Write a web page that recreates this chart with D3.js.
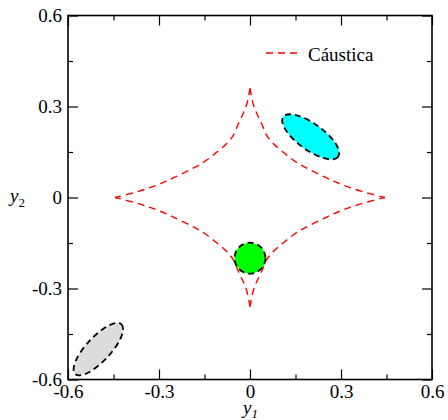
<!DOCTYPE html>
<html>
<head>
<meta charset="utf-8">
<script src="https://cdn.jsdelivr.net/npm/d3@7"></script>
<style>
  body { margin: 0; background: #fff; }
  svg { display: block; }
  text { font-family: "Liberation Serif", "Times New Roman", serif; fill: #000; }
</style>
</head>
<body>
<div id="chart"></div>
<script>
// axis ticks
var majorTicks = [-0.6, -0.3, 0, 0.3, 0.6];
var minorTicks = [-0.45, -0.15, 0.15, 0.45];

var causticNE = [[0,0.36],[0.01,0.31],[0.022,0.278],[0.04,0.24],[0.055,0.205],[0.08,0.175],[0.115,0.145],
  [0.155,0.115],[0.198,0.091],[0.25,0.066],[0.28,0.052],[0.32,0.036],[0.375,0.018],[0.445,0]];
var causticNW = [[0,0.36],[-0.01,0.31],[-0.022,0.278],[-0.04,0.24],[-0.055,0.205],[-0.08,0.175],[-0.115,0.145],
  [-0.155,0.115],[-0.198,0.091],[-0.25,0.066],[-0.28,0.052],[-0.32,0.036],[-0.375,0.018],[-0.445,0]];
var causticSW = [[0,-0.36],[-0.01,-0.31],[-0.022,-0.278],[-0.04,-0.24],[-0.055,-0.205],[-0.08,-0.175],[-0.115,-0.145],
  [-0.155,-0.115],[-0.198,-0.091],[-0.25,-0.066],[-0.28,-0.052],[-0.32,-0.036],[-0.375,-0.018],[-0.445,0]];
var causticSE = [[0,-0.36],[0.01,-0.31],[0.022,-0.278],[0.04,-0.24],[0.055,-0.205],[0.08,-0.175],[0.115,-0.145],
  [0.155,-0.115],[0.198,-0.091],[0.25,-0.066],[0.28,-0.052],[0.32,-0.036],[0.375,-0.018],[0.445,0]];

// sources: center x, center y, semi-axis a, semi-axis b, angle (deg), fill
var sourceNames = ["cyan", "green", "gray"];
var sourceCx = [0.2, 0, -0.5];
var sourceCy = [0.2, -0.2, -0.5];
var sourceA = [0.112, 0.051, 0.112];
var sourceB = [0.043, 0.051, 0.04];
var sourceAngle = [-36, 0, 47];
var sourceFill = ["#00ffff", "#00ff00", "#dcdcdc"];

var width = 448, height = 420;
var margin = {left: 68, top: 15.5, right: 16, bottom: 40.5};

var svg = d3.select("#chart").append("svg")
  .attr("width", width).attr("height", height);

var x = d3.scaleLinear().domain([-0.6, 0.6]).range([margin.left, width - margin.right]);
var y = d3.scaleLinear().domain([-0.6, 0.6]).range([height - margin.bottom, margin.top]);

var fmt = function(d) { return d === 0 ? "0" : (d < 0 ? "-" : "") + Math.abs(d).toFixed(1); };

// caustic
var line = d3.line().x(d => x(d[0])).y(d => y(d[1])).curve(d3.curveCatmullRom);
[causticNE, causticNW, causticSW, causticSE].forEach(function(arc) {
  svg.append("path")
    .attr("d", line(arc))
    .attr("fill", "none")
    .attr("stroke", "#ff0000")
    .attr("stroke-width", 1.4)
    .attr("stroke-dasharray", "7,5");
});

// sources
var sx = (x(1) - x(0)), sy = (y(0) - y(1));
sourceNames.forEach(function(n, i) {
  svg.append("ellipse")
    .attr("transform", `translate(${x(sourceCx[i])},${y(sourceCy[i])}) rotate(${-sourceAngle[i]})`)
    .attr("rx", sourceA[i] * sx)
    .attr("ry", sourceB[i] * sy)
    .attr("fill", sourceFill[i])
    .attr("stroke", "#000")
    .attr("stroke-width", 1.8)
    .attr("stroke-dasharray", "6,4");
});

// axes
var fontSize = 19;
function styleAxis(g) {
  g.attr("font-family", null).attr("font-size", null);
  g.select(".domain").remove();
  g.selectAll("line").attr("stroke", "#000").attr("stroke-width", 1.2);
  g.selectAll("text").attr("font-size", fontSize).attr("fill", "#000");
}
var axBottom = svg.append("g").attr("transform", `translate(0,${y(-0.6)})`)
  .call(d3.axisBottom(x).tickValues(majorTicks).tickSize(-10).tickPadding(5).tickFormat(fmt));
styleAxis(axBottom);
var axLeft = svg.append("g").attr("transform", `translate(${x(-0.6)},0)`)
  .call(d3.axisLeft(y).tickValues(majorTicks).tickSize(-10).tickPadding(6).tickFormat(fmt));
styleAxis(axLeft);
var axTop = svg.append("g").attr("transform", `translate(0,${y(0.6)})`)
  .call(d3.axisTop(x).tickValues(majorTicks).tickSize(-10).tickFormat(""));
styleAxis(axTop);
var axRight = svg.append("g").attr("transform", `translate(${x(0.6)},0)`)
  .call(d3.axisRight(y).tickValues(majorTicks).tickSize(-10).tickFormat(""));
styleAxis(axRight);
// minor ticks
styleAxis(svg.append("g").attr("transform", `translate(0,${y(-0.6)})`)
  .call(d3.axisBottom(x).tickValues(minorTicks).tickSize(-5).tickFormat("")));
styleAxis(svg.append("g").attr("transform", `translate(0,${y(0.6)})`)
  .call(d3.axisTop(x).tickValues(minorTicks).tickSize(-5).tickFormat("")));
styleAxis(svg.append("g").attr("transform", `translate(${x(-0.6)},0)`)
  .call(d3.axisLeft(y).tickValues(minorTicks).tickSize(-5).tickFormat("")));
styleAxis(svg.append("g").attr("transform", `translate(${x(0.6)},0)`)
  .call(d3.axisRight(y).tickValues(minorTicks).tickSize(-5).tickFormat("")));

// frame
svg.append("rect")
  .attr("x", x(-0.6)).attr("y", y(0.6))
  .attr("width", x(0.6) - x(-0.6)).attr("height", y(-0.6) - y(0.6))
  .attr("fill", "none").attr("stroke", "#000").attr("stroke-width", 1.6);

// axis titles
var xt = svg.append("text").attr("x", 243).attr("y", 413.5).attr("font-size", fontSize);
xt.append("tspan").attr("font-style", "italic").text("y");
xt.append("tspan").attr("font-size", 13).attr("dy", 4).attr("font-style", "italic").text("1");
var yt = svg.append("text").attr("x", 10).attr("y", 202).attr("font-size", fontSize);
yt.append("tspan").attr("font-style", "italic").text("y");
yt.append("tspan").attr("font-size", 13).attr("dy", 5).text("2");

// legend
svg.append("line")
  .attr("x1", 266).attr("x2", 298).attr("y1", 53).attr("y2", 53)
  .attr("stroke", "#ff0000").attr("stroke-width", 1.4).attr("stroke-dasharray", "7,5");
svg.append("text").attr("x", 308).attr("y", 60.5).attr("font-size", fontSize).text("Cáustica");
</script>
</body>
</html>
